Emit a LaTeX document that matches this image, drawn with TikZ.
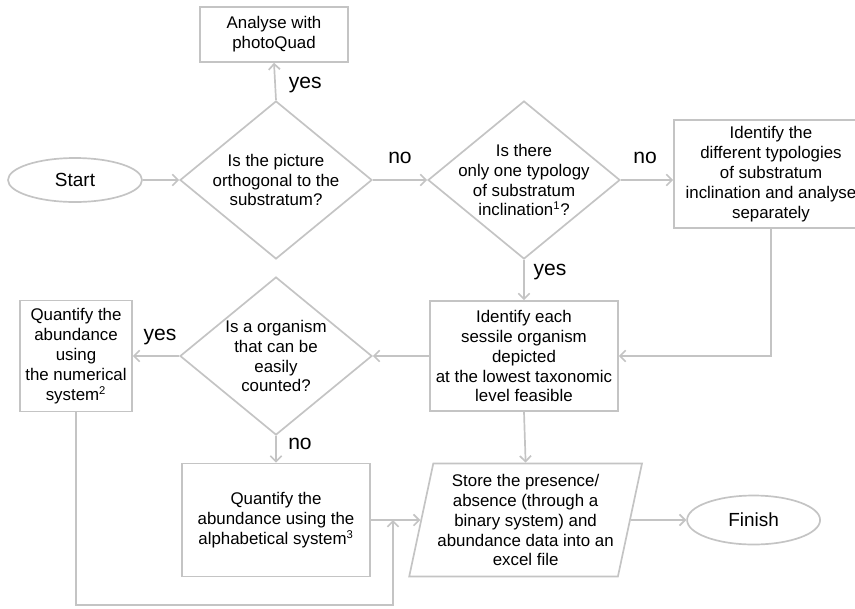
\documentclass[tikz,border=0pt]{standalone}
\usepackage{fontspec}
\setmainfont{Liberation Sans}
\usepackage{xcolor}
\usetikzlibrary{positioning,arrows.meta,shapes.geometric,calc}
\definecolor{edge}{HTML}{C4C4C4}

\begin{document}
\begin{tikzpicture}[
  box/.style={draw=edge, line width=1.2pt, fill=white, align=center, inner sep=2pt,
    font=\fontsize{12}{14.2}\selectfont},
  proc/.style={box, rectangle},
  term/.style={box, ellipse, inner sep=0pt, font=\fontsize{13.5}{16}\selectfont},
  ask/.style={box, diamond, aspect=1.215, inner sep=-6pt, minimum width=4.8cm, minimum height=3.95cm},
  io/.style={box, trapezium, trapezium left angle=76, trapezium right angle=104,
    trapezium stretches=true, inner sep=0pt},
  link/.style={draw=edge, line width=1.2pt, -{Straight Barb[length=4pt,width=8pt]}},
  ans/.style={font=\fontsize{15}{18}\selectfont}
]
  \useasboundingbox (0,0) rectangle (21.375,-15.2);

  % --- first row ---
  \node[term, minimum width=3.35cm, minimum height=1.1cm] (start) at (1.875,-4.5) {Start};
  \node[proc, minimum width=3.7cm, minimum height=1.375cm] (photoquad) at (6.85,-0.86)
    {Analyse with\\photoQuad};
  \node[ask] (orthogonal) at (6.9,-4.5) {Is the picture\\orthogonal to the\\substratum?};
  \node[ask] (typology) at (13.1,-4.5)
    {Is there\\only one typology\\of substratum\\inclination\textsuperscript{1}?};
  \node[proc, minimum width=4.85cm, minimum height=2.7cm] (separate) at (19.275,-4.35)
    {Identify the\\different typologies\\of substratum\\inclination and analyse\\separately};

  % --- second row ---
  \node[proc, minimum width=4.7cm, minimum height=2.75cm] (identify) at (13.1,-8.9)
    {Identify each\\sessile organism\\depicted\\at the lowest taxonomic\\level feasible};
  \node[ask] (counted) at (6.9,-8.9) {Is a organism\\that can be\\easily\\counted?};
  \node[proc, minimum width=2.8cm, minimum height=2.775cm] (numeric) at (1.9,-8.9)
    {Quantify the\\abundance\\using\\the numerical\\system\textsuperscript{2}};

  % --- third row ---
  \node[proc, minimum width=4.7cm, minimum height=2.825cm] (alpha) at (6.9,-13.0)
    {Quantify the\\abundance using the\\alphabetical system\textsuperscript{3}};
  \node[io, minimum width=5.825cm, minimum height=2.825cm] (store) at (13.14,-13.0)
    {Store the presence/\\absence (through a\\binary system) and\\abundance data into an\\excel file};
  \node[term, minimum width=3.325cm, minimum height=1.225cm] (finish) at (18.84,-13.0) {Finish};

  \coordinate (merge) at (9.825,-13.0);
  \coordinate (loopbase) at (9.825,-15.125);

  % --- connectors ---
  \draw[link] (start) -- (orthogonal);
  \draw[link] (orthogonal.north) -- (photoquad.south);
  \draw[link] (orthogonal) -- (typology);
  \draw[link] (typology.east) -- (typology.east -| separate.west);
  \draw[link] (typology.south) -- (identify.north);
  \draw[link] (separate.south) |- (identify.east);
  \draw[link] (identify.west) -- (counted.east);
  \draw[link] (counted.west) -- (numeric.east);
  \draw[link] (counted.south) -- (alpha.north);
  \draw[link] (alpha.east) -- (store.west);
  \draw[link] (identify.south) -- (store.north);
  \draw[link] (store.east) -- (finish.west);
  \draw[link] (numeric.south) |- (loopbase) -- (merge);

  % --- answers ---
  \node[ans] (yesA) at (7.63,-2.12) {yes};
  \node[ans] (noA) at (10.0,-3.95) {no};
  \node[ans] (noB) at (16.13,-3.95) {no};
  \node[ans] (yesB) at (13.75,-6.8) {yes};
  \node[ans] (yesC) at (4.0,-8.42) {yes};
  \node[ans] (noC) at (7.5,-11.1) {no};
\end{tikzpicture}
\end{document}
